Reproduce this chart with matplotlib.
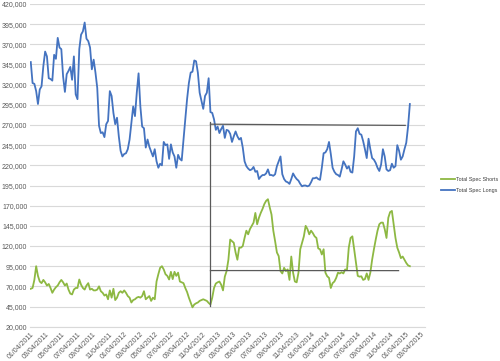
import matplotlib
matplotlib.use("Agg")
import matplotlib.pyplot as plt
import matplotlib.ticker as mticker
import pandas as pd
import numpy as np

# ---- data (thousands of contracts, weekly from 2011-01-04) ----
start_date = "2011-01-04"
spec_longs_k = [
    348, 322, 321, 312, 296, 314, 318, 343, 361, 355,
    328, 327, 325, 357, 352, 378, 366, 364, 330, 311,
    333, 337, 342, 326, 355, 308, 302, 364, 382, 386,
    397, 377, 374, 366, 339, 351, 335, 316, 269, 260,
    261, 255, 271, 275, 312, 306, 285, 271, 279, 256,
    238, 231, 234, 235, 240, 252, 273, 293, 281, 310,
    334, 293, 268, 266, 242, 252, 243, 237, 231, 240,
    225, 217, 222, 220, 249, 245, 246, 228, 246, 236,
    231, 217, 233, 228, 226, 252, 277, 302, 322, 335,
    336, 350, 349, 335, 310, 300, 290, 306, 310, 328,
    286, 285, 277, 264, 268, 260, 265, 269, 254, 264,
    263, 259, 249, 256, 262, 256, 252, 254, 242, 225,
    219, 216, 214, 215, 218, 212, 213, 203, 206, 208,
    208, 210, 215, 208, 208, 207, 209, 219, 225, 231,
    209, 203, 200, 199, 197, 203, 210, 206, 203, 201,
    197, 194, 195, 195, 194, 195, 199, 204, 204, 205,
    203, 202, 217, 235, 236, 240, 249, 234, 217, 212,
    209, 208, 206, 215, 225, 221, 216, 219, 212, 211,
    231, 262, 266, 259, 258, 250, 240, 229, 253, 240,
    229, 227, 223, 217, 213, 221, 240, 231, 215, 213,
    214, 222, 217, 219, 245, 238, 227, 231, 240, 248,
    268, 296,
]
spec_shorts_k = [
    67, 68, 78, 95, 83, 76, 74, 78, 75, 71,
    73, 68, 62, 66, 69, 71, 75, 78, 75, 71,
    73.5, 66, 61, 60, 66, 68, 68, 78.5, 72, 68,
    66, 71, 74, 66, 67, 65, 65, 66, 70, 64,
    62, 58.6, 60, 54, 65, 56, 67, 53, 56, 62,
    64, 62, 65, 62, 58, 56, 50, 53, 54, 56,
    57, 56, 58, 64, 54, 56, 58, 52, 56, 54,
    76, 85, 93, 95, 91, 85, 83, 78.5, 88, 79,
    88, 83, 87, 76, 75, 74, 68, 63, 56, 50,
    44, 47.5, 49, 50, 52, 53, 54, 53, 52, 49.5,
    47.5, 56, 68, 73.5, 75, 76, 72, 65, 82, 89,
    103, 128, 126, 124, 112, 103, 118, 118, 120, 130,
    139, 134.5, 141, 145, 149, 161, 147, 155, 161, 166,
    172, 176, 178, 168, 159, 139, 126, 112, 107.5, 89,
    86, 93, 89, 91, 78, 107, 87, 76, 75, 87,
    116, 124, 132, 145, 141, 134.5, 139, 136, 132, 130,
    117, 116, 109.5, 116, 87, 82.5, 80.5, 68, 74, 76,
    80.5, 87, 86, 87.5, 86, 91, 90, 118, 130, 132,
    116, 99, 83, 82, 82.5, 78, 79, 86, 78, 87,
    103, 116, 128, 139, 147, 149, 149, 141, 130, 155,
    162, 163.5, 147, 130, 118, 112, 105, 107, 103, 99,
    96, 95,
]
series_names = ["Total Spec Shorts", "Total Spec Longs"]

# hand-drawn annotation lines
vline_date = ["2012-12-04", "2012-12-04"]
vline_vals = [46000, 274000]
upper_line_dates = ["2012-12-04", "2015-01-02"]
upper_line_vals = [271000, 269500]
lower_line_dates = ["2012-12-04", "2014-12-07"]
lower_line_vals = [89600, 89500]

# axis
y_ticks = list(range(20000, 420001, 25000))
tick_dates = pd.date_range("2011-01-01", "2015-03-01", freq="2MS") + pd.Timedelta(days=3)
tick_labels = [d.strftime("%m/%d/%Y") for d in tick_dates]

dates = pd.date_range(start_date, periods=len(spec_longs_k), freq="7D")
longs = np.array(spec_longs_k) * 1000
shorts = np.array(spec_shorts_k) * 1000

plt.rcParams["font.family"] = ["Liberation Sans", "DejaVu Sans"]
fig = plt.figure(figsize=(5.0, 3.61), dpi=100)
ax = fig.add_axes([0.060, 0.095, 0.790, 0.894])

green = "#8DB842"
blue = "#4473C0"
ax.plot(dates, shorts, color=green, lw=1.3, label=series_names[0], solid_joinstyle="round")
ax.plot(dates, longs, color=blue, lw=1.3, label=series_names[1], solid_joinstyle="round")

ann = "#5A5A5A"
ax.plot(pd.to_datetime(vline_date), vline_vals, color=ann, lw=0.9)
ax.plot(pd.to_datetime(upper_line_dates), upper_line_vals, color=ann, lw=0.9)
ax.plot(pd.to_datetime(lower_line_dates), lower_line_vals, color=ann, lw=0.9)

ax.set_ylim(20000, 420000)
ax.set_xlim(pd.Timestamp("2011-01-01"), pd.Timestamp("2015-03-20"))
ax.set_yticks(y_ticks)
ax.yaxis.set_major_formatter(mticker.FuncFormatter(lambda v, p: f"{int(v):,}"))
ax.set_xticks(tick_dates)
ax.set_xticklabels(tick_labels, rotation=45, ha="right", rotation_mode="anchor")
ax.tick_params(axis="both", length=0, labelsize=5, colors="#595959", pad=2)
ax.tick_params(axis="x", pad=3)
ax.grid(axis="y", color="#D9D9D9", lw=0.8)
ax.set_axisbelow(True)
for s in ["top", "right", "left"]:
    ax.spines[s].set_visible(False)
ax.spines["bottom"].set_color("#D9D9D9")
ax.spines["bottom"].set_linewidth(0.8)

fig.legend(loc="center left", bbox_to_anchor=(0.882, 0.488), frameon=False,
           fontsize=3.9, handlelength=2.5, labelspacing=1.1, handletextpad=0.3,
           borderaxespad=0.0, borderpad=0.0, labelcolor="#404040")

fig.savefig("out.png", dpi=100, facecolor="white")
